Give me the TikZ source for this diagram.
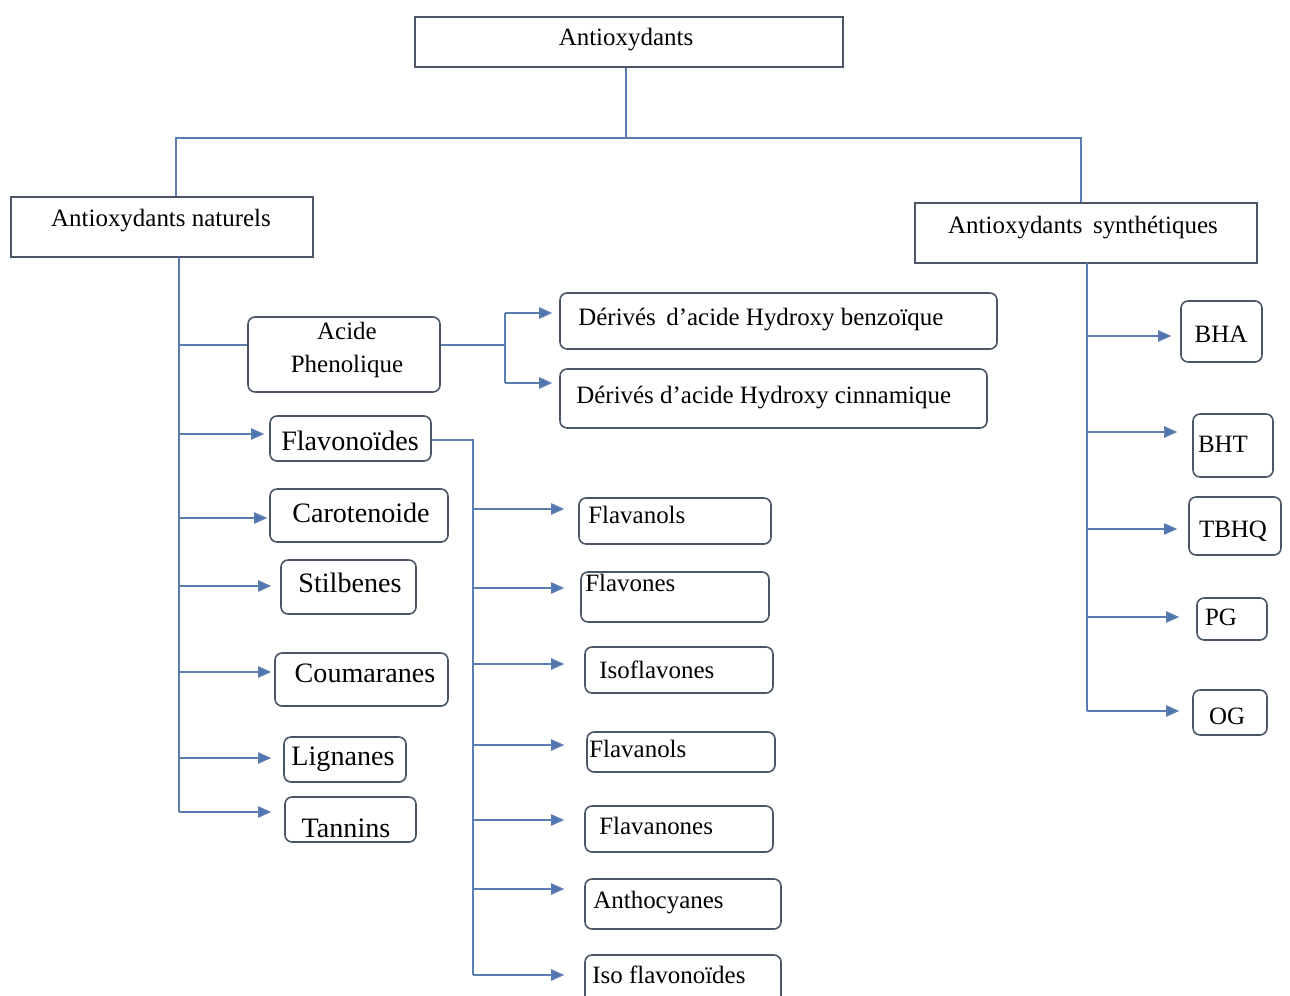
\documentclass[tikz,border=0pt]{standalone}
\usepackage{fontspec}
\setmainfont{Liberation Serif}
\usetikzlibrary{arrows.meta,fit}
\definecolor{boxc}{HTML}{4A5566}
\definecolor{linec}{HTML}{5B7DB1}
\definecolor{tipc}{HTML}{4F74B0}
\tikzset{
  box/.style={draw=boxc, line width=0.9pt, rounded corners=4pt, inner sep=0pt},
  sqbox/.style={draw=boxc, line width=0.9pt, inner sep=0pt},
  conn/.style={draw=linec, line width=0.9pt},
  arr/.style={conn, -{Triangle[length=7.5pt,width=6.5pt,fill=tipc]}},
  txt/.style={font=\fontsize{14.2}{18.7}\selectfont, inner sep=0pt, text=black},
  big/.style={font=\fontsize{16}{18}\selectfont, inner sep=0pt, text=black},
}
\begin{document}
\begin{tikzpicture}[x=0.02cm,y=-0.02cm]
\useasboundingbox (0,0) rectangle (1290,996);
\fill[white] (0,0) rectangle (1290,996);

% ---- boxes ----
\node[sqbox, fit={(415,17) (843,67)}] (root) {};
\node[sqbox, fit={(11,197) (313,257)}] (nat) {};
\node[sqbox, fit={(915,203) (1257,263)}] (syn) {};

\node[box, fit={(248,317) (440,392)}] (acide) {};
\node[box, fit={(560,293) (997,349)}] (hb) {};
\node[box, fit={(560,369) (987,428)}] (hc) {};

\node[box, fit={(270,416) (431,461)}] (flavo) {};
\node[box, fit={(270,489) (448,542)}] (caro) {};
\node[box, fit={(281,560) (416,614)}] (stil) {};
\node[box, fit={(275,653) (448,706)}] (coum) {};
\node[box, fit={(284,737) (406,782)}] (lign) {};
\node[box, fit={(285,797) (416,842)}] (tann) {};

\node[box, fit={(579,498) (771,544)}] (fa) {};
\node[box, fit={(581,572) (769,622)}] (fb) {};
\node[box, fit={(585,647) (773,693)}] (fc) {};
\node[box, fit={(587,732) (775,772)}] (fd) {};
\node[box, fit={(585,806) (773,852)}] (fe) {};
\node[box, fit={(585,879) (781,929)}] (ff) {};
\node[box, fit={(585,955) (781,1010)}] (fg) {};

\node[box, fit={(1181,301) (1262,362)}] (bha) {};
\node[box, fit={(1193,414) (1273,477)}] (bht) {};
\node[box, fit={(1189,497) (1281,555)}] (tbhq) {};
\node[box, fit={(1197,598) (1267,640)}] (pg) {};
\node[box, fit={(1193,690) (1267,735)}] (og) {};

% ---- texts ----
\node[txt] (troot) at (626,40) {Antioxydants};
\node[txt] (tnat) at (161,221) {Antioxydants naturels};
\node[txt] (tsyn) at (1083,228) {Antioxydants\, synthétiques};
\node[txt, align=center] (tacide) at (347,350) {Acide\\Phenolique};
\node[txt, anchor=west] (thb) at (578,320) {Dérivés\, d’acide Hydroxy benzoïque};
\node[txt, anchor=west] (thc) at (576,398) {Dérivés d’acide Hydroxy cinnamique};

\node[big] (tflavo) at (350,441) {Flavonoïdes};
\node[big] (tcaro) at (361,513) {Carotenoide};
\node[big] (tstil) at (350,583) {Stilbenes};
\node[big] (tcoum) at (365,673) {Coumaranes};
\node[big] (tlign) at (343,759) {Lignanes};
\node[big] (ttann) at (346,828) {Tannins};

\node[txt, anchor=west] (tfa) at (588,515) {Flavanols};
\node[txt, anchor=west] (tfb) at (585,583) {Flavones};
\node[txt, anchor=west] (tfc) at (599,670) {Isoflavones};
\node[txt, anchor=west] (tfd) at (589,749) {Flavanols};
\node[txt, anchor=west] (tfe) at (599,826) {Flavanones};
\node[txt, anchor=west] (tff) at (593,903) {Anthocyanes};
\node[txt, anchor=west] (tfg) at (592,975) {Iso flavonoïdes};

\node[txt] (tbha) at (1221,334) {BHA};
\node[txt] (tbht) at (1223,444) {BHT};
\node[txt] (ttbhq) at (1233,531) {TBHQ};
\node[txt] (tpg) at (1221,617) {PG};
\node[txt] (tog) at (1227,716) {OG};

% ---- top connectors ----
\coordinate (j0) at (626,138);
\coordinate (jl) at (176,138);
\coordinate (jr) at (1081,138);
\draw[conn] (j0 |- root.south) -- (j0);
\draw[conn] (jl |- nat.north) -- (jl) -- (jr) -- (jr |- syn.north);

% ---- natural trunk ----
\coordinate (nt) at (179,257);
\coordinate (nb) at (179,812);
\draw[conn] (nt) -- (nb);
\coordinate (n1) at (179,345);
\coordinate (n2) at (179,434);
\coordinate (n3) at (179,518);
\coordinate (n4) at (179,586);
\coordinate (n5) at (179,672);
\coordinate (n6) at (179,758);
\draw[conn] (n1) -- (n1 -| acide.west);
\draw[arr, shorten >=0.10cm] (n2) -- (n2 -| flavo.west);
\draw[arr, shorten >=0.04cm] (n3) -- (n3 -| caro.west);
\draw[arr, shorten >=0.18cm] (n4) -- (n4 -| stil.west);
\draw[arr, shorten >=0.06cm] (n5) -- (n5 -| coum.west);
\draw[arr, shorten >=0.24cm] (n6) -- (n6 -| lign.west);
\draw[arr, shorten >=0.26cm] (nb) -- (nb -| tann.west);

% ---- phenolic acids ----
\coordinate (p0) at (505,345);
\coordinate (pa) at (505,313);
\coordinate (pb) at (505,383);
\draw[conn] (p0 -| acide.east) -- (p0);
\draw[conn] (pa) -- (pb);
\draw[arr, shorten >=0.14cm] (pa) -- (pa -| hb.west);
\draw[arr, shorten >=0.14cm] (pb) -- (pb -| hc.west);

% ---- flavonoid sub-classes ----
\coordinate (f0) at (473,440);
\coordinate (fz) at (473,975);
\draw[conn] (f0 -| flavo.east) -- (f0) -- (fz);
\coordinate (f1) at (473,509);
\coordinate (f2) at (473,588);
\coordinate (f3) at (473,664);
\coordinate (f4) at (473,745);
\coordinate (f5) at (473,820);
\coordinate (f6) at (473,889);
\draw[arr, shorten >=0.28cm] (f1) -- (f1 -| fa.west);
\draw[arr, shorten >=0.32cm] (f2) -- (f2 -| fb.west);
\draw[arr, shorten >=0.40cm] (f3) -- (f3 -| fc.west);
\draw[arr, shorten >=0.44cm] (f4) -- (f4 -| fd.west);
\draw[arr, shorten >=0.40cm] (f5) -- (f5 -| fe.west);
\draw[arr, shorten >=0.40cm] (f6) -- (f6 -| ff.west);
\draw[arr, shorten >=0.40cm] (fz) -- (fz -| fg.west);

% ---- synthetic trunk ----
\coordinate (st) at (1087,263);
\coordinate (sb) at (1087,711);
\draw[conn] (st) -- (sb);
\coordinate (s1) at (1087,336);
\coordinate (s2) at (1087,432);
\coordinate (s3) at (1087,529);
\coordinate (s4) at (1087,617);
\draw[arr, shorten >=0.18cm] (s1) -- (s1 -| bha.west);
\draw[arr, shorten >=0.30cm] (s2) -- (s2 -| bht.west);
\draw[arr, shorten >=0.22cm] (s3) -- (s3 -| tbhq.west);
\draw[arr, shorten >=0.34cm] (s4) -- (s4 -| pg.west);
\draw[arr, shorten >=0.26cm] (sb) -- (sb -| og.west);
\end{tikzpicture}
\end{document}
